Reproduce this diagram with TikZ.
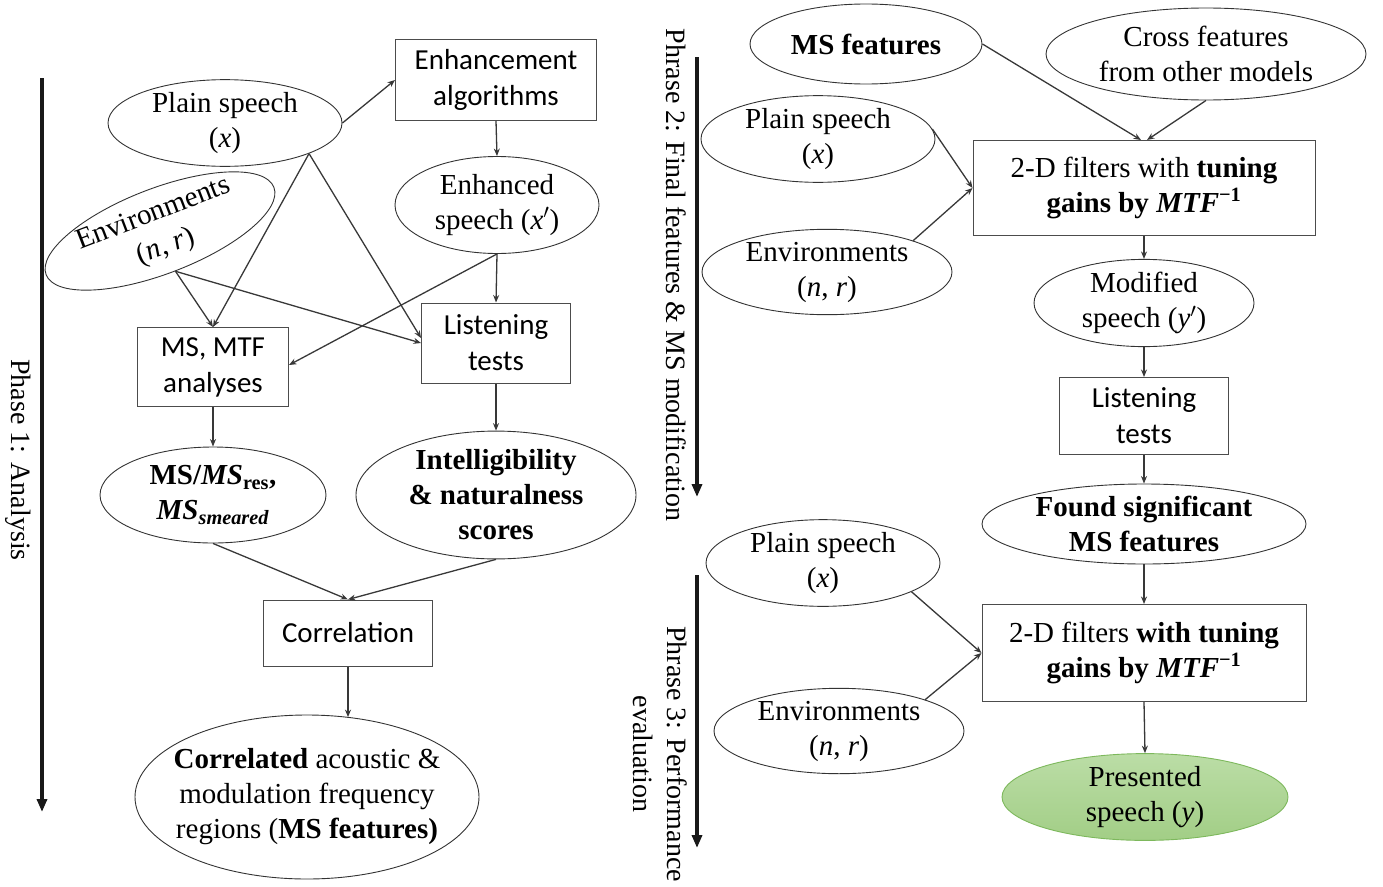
\RequirePackage{fix-cm}
\documentclass[tikz,border=0pt]{standalone}
\usepackage{fontspec}
\setmainfont{Liberation Serif}
\setsansfont{Carlito}
\usetikzlibrary{shapes.geometric,arrows.meta}
\newcommand\serifsz{\fontsize{29}{35}\selectfont}
\newcommand\sanssz{\sffamily\fontsize{29}{36}\selectfont}
\newcommand\vx{\textit{x}}
\newcommand\vnr{(\textit{n}, \textit{r})}
\definecolor{gtop}{HTML}{BBDDA6}
\definecolor{gbot}{HTML}{A2CE86}
\definecolor{gborder}{HTML}{7DB85C}
\begin{document}
\begin{tikzpicture}[x=1pt,y=-1pt,
  ell/.style={ellipse, draw=black!80, line width=0.9pt, inner sep=0pt, align=center, font=\serifsz},
  box/.style={rectangle, draw=black!70, line width=1pt, inner sep=0pt, align=center, font=\sanssz},
  sbox/.style={box, font=\serifsz},
  conn/.style={draw=black!78, line width=1.3pt, -{Stealth[length=7.5pt,width=6pt]}},
  phase/.style={draw=black!90, line width=3.5pt, -{Triangle[length=13pt,width=10pt]}},
  phaselab/.style={rotate=-90, align=center, font=\fontsize{28}{34}\selectfont, inner sep=0pt},
  greenell/.style={ell, draw=gborder, top color=gtop, bottom color=gbot}
]
\useasboundingbox (0,0) rectangle (1383,886);

% ---------- Phase 1 ----------
\draw[phase] (42,78) -- (42,812);
\node[phaselab] (lab1) at (18,460) {Phase 1: Analysis};

\node[ell, minimum width=234, minimum height=78] (ps1) at (225,123) {Plain speech\\ (\vx)};
\node[ell, rotate=21, minimum width=244, minimum height=84] (env1) at (160,231) {Environments\\ \vnr};
\node[box, minimum width=201, minimum height=81] (enh) at (496,80) {Enhancement\\ algorithms};
\node[ell, minimum width=204, minimum height=97] (es) at (497,205) {Enhanced\\ speech (\vx$'$)};
\node[box, minimum width=151, minimum height=79] (msa) at (213,367) {MS, MTF\\ analyses};
\node[box, minimum width=149, minimum height=80] (lt1) at (496,343) {Listening\\ tests};
\node[ell, minimum width=226, minimum height=96] (msr) at (213,495)
  {\textbf{MS/\textit{MS}\textsubscript{res},}\\ \textbf{\textit{MS}\textsubscript{\textit{smeared}}}};
\node[ell, font=\serifsz\bfseries, minimum width=280, minimum height=126] (intel) at (496,495)
  {Intelligibility\\ \& naturalness\\ scores};
\node[box, minimum width=169, minimum height=66] (cor) at (348,633) {Correlation};
\node[ell, inner xsep=-12pt, minimum width=344, minimum height=164] (corr) at (307,797)
  {\textbf{Correlated} acoustic \&\\ modulation frequency\\ regions (\textbf{MS features)}};

\draw[conn] (ps1.east) -- (enh.west);
\draw[conn] (enh.south) -- (es.north);
\draw[conn] (ps1.-20) -- (msa.north);
\draw[conn] (ps1.-20) -- ([yshift=5pt]lt1.west);
\draw[conn] (env1.south) -- (msa.north);
\draw[conn] (env1.south) -- (lt1.west);
\draw[conn] (es.south) -- (lt1.north);
\draw[conn] (es.south) -- ([yshift=2pt]msa.east);
\draw[conn] (msa.south) -- (msr.north);
\draw[conn] (lt1.south) -- (intel.north);
\draw[conn] (msr.south) -- (cor.north);
\draw[conn] (intel.south) -- (cor.north);
\draw[conn] (cor.south) -- (cor.south |- corr.62.7);

% ---------- Phase 2 ----------
\draw[phase] (697,57) -- (697,497);
\node[phaselab] (lab2) at (676,275) {Phrase 2: Final features \& MS modification};

\node[ell, font=\serifsz\bfseries, minimum width=232, minimum height=80] (msf) at (866,44) {MS features};
\node[ell, minimum width=320, minimum height=92] (cross) at (1206,54) {Cross features\\ from other models};
\node[ell, minimum width=234, minimum height=80] (ps2) at (818,139) {Plain speech\\ (\vx)};
\node[ell, minimum width=250, minimum height=80] (env2) at (827,272) {Environments\\ \vnr};
\node[sbox, minimum width=342, minimum height=95] (fb2) at (1144,188)
  {2-D filters with \textbf{tuning}\\ \textbf{gains by \textit{MTF}}\textsuperscript{\textbf{−1}}};
\node[ell, minimum width=220, minimum height=80] (mod) at (1144,303) {Modified\\ speech (\textit{y}$'$)};
\node[box, minimum width=169, minimum height=77] (lt2) at (1144,416) {Listening\\ tests};
\node[ell, font=\serifsz\bfseries, minimum width=324, minimum height=80] (found) at (1144,524) {Found significant\\ MS features};

\draw[conn] (msf.east) -- ([xshift=-3pt]fb2.north);
\draw[conn] (cross.south) -- ([xshift=3pt]fb2.north);
\draw[conn] (ps2.5) -- (fb2.west);
\draw[conn] (env2.20) -- (fb2.west);
\draw[conn] (fb2.south) -- (mod.north);
\draw[conn] (mod.south) -- (lt2.north);
\draw[conn] (lt2.south) -- (found.north);

% ---------- Phase 3 ----------
\draw[phase] (697,575) -- (697,848);
\node[phaselab] (lab3) at (660,754) {Phrase 3: Performance\\ evaluation};

\node[ell, minimum width=234, minimum height=80] (ps3) at (823,563) {Plain speech\\ (\vx)};
\node[ell, minimum width=250, minimum height=80] (env3) at (839,731) {Environments\\ \vnr};
\node[sbox, minimum width=324, minimum height=97] (fb3) at (1144,653)
  {2-D filters \textbf{with tuning}\\ \textbf{gains by \textit{MTF}}\textsuperscript{\textbf{−1}}};
\node[greenell, minimum width=286, minimum height=80] (pres) at (1145,797) {Presented\\ speech (\textit{y})};

\draw[conn] (found.south) -- (fb3.north);
\draw[conn] (ps3.-18) -- (fb3.west);
\draw[conn] (env3.20) -- (fb3.west);
\draw[conn] (fb3.south) -- (pres.north);
\end{tikzpicture}
\end{document}
